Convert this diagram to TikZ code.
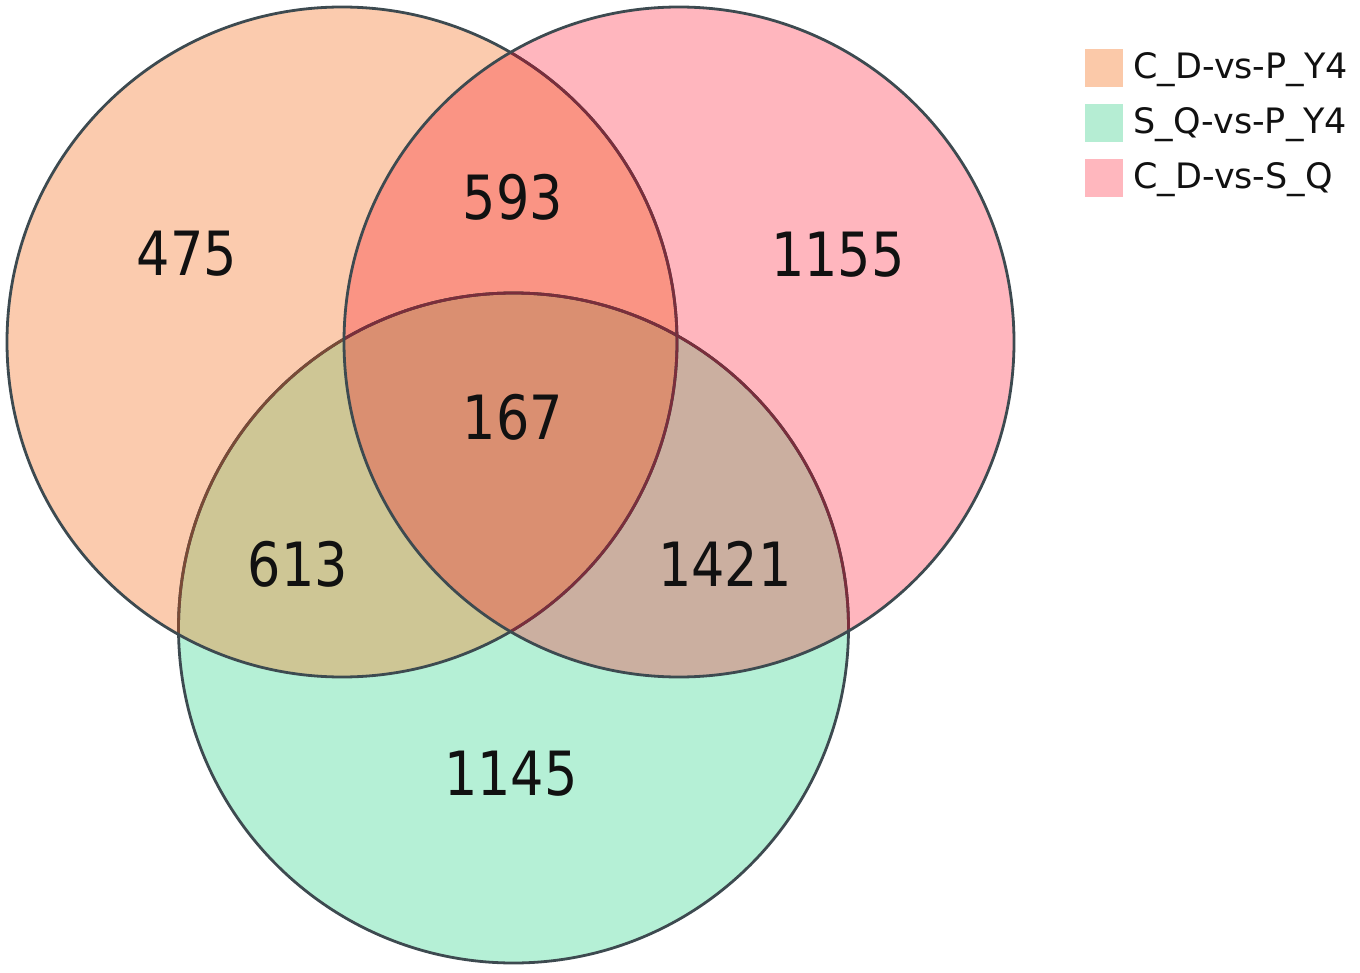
\documentclass[tikz,border=0pt]{standalone}
\usepackage{fontspec}
\setmainfont{DejaVu Sans}
\newfontfamily\numfont[FakeStretch=0.86]{DejaVu Sans}
\definecolor{cA}{HTML}{FBCBAE}
\definecolor{cB}{HTML}{B5F0D6}
\definecolor{cC}{HTML}{FFB6BE}
\definecolor{cAC}{HTML}{FA9484}
\definecolor{cAB}{HTML}{CEC695}
\definecolor{cBC}{HTML}{CBAFA0}
\definecolor{cABC}{HTML}{DA8F71}
\definecolor{lineG}{HTML}{3D4A50}
\definecolor{lineBr}{HTML}{7A4A36}
\definecolor{lineM}{HTML}{7A2E3C}
\definecolor{legA}{HTML}{FBC9A9}
\definecolor{legB}{HTML}{B5EDD3}
\definecolor{legC}{HTML}{FFB7BE}
\definecolor{txt}{HTML}{111111}
\tikzset{
  outl/.style={line width=1.4pt},
  numlab/.style={font=\numfont\fontsize{30.5}{36}\selectfont, text=txt, inner sep=0pt},
  legbox/.style={minimum width=19pt, minimum height=19pt, inner sep=0pt, draw=none},
  legtext/.style={font=\fontsize{17.5}{20}\selectfont, text=txt, anchor=west, inner sep=0pt}
}
\begin{document}
\begin{tikzpicture}[x=0.5pt,y=-0.5pt]
\useasboundingbox (0,0) rectangle (1360,973);
\def\cirA{(342,342) circle[radius=335]}
\def\cirB{(513.5,628) circle[radius=335]}
\def\cirC{(679,342) circle[radius=335]}
% region fills
\fill[cA] \cirA;
\fill[cB] \cirB;
\fill[cC] \cirC;
\begin{scope}\clip \cirA; \fill[cAB] \cirB; \fill[cAC] \cirC; \end{scope}
\begin{scope}\clip \cirB; \fill[cBC] \cirC; \end{scope}
\begin{scope}\clip \cirA; \clip \cirB; \fill[cABC] \cirC; \end{scope}
% outlines
\draw[outl, lineG] \cirB;
\begin{scope}\clip \cirA; \draw[outl, lineBr] \cirB; \end{scope}
\begin{scope}\clip \cirC; \draw[outl, lineM] \cirB; \end{scope}
\draw[outl, lineG] \cirA;
\begin{scope}\clip \cirC; \draw[outl, lineM] \cirA; \end{scope}
\draw[outl, lineG] \cirC;
% counts
\node[numlab] (n475) at (187,254) {475};
\node[numlab] (n593) at (513,197) {593};
\node[numlab] (n1155) at (838,255) {1155};
\node[numlab] (n167) at (513,417) {167};
\node[numlab] (n613) at (298,564) {613};
\node[numlab] (n1421) at (725,564) {1421};
\node[numlab] (n1145) at (511,774) {1145};
% legend
\node[legbox, fill=legA] (la) at (1104,68) {};
\node[legbox, fill=legB] (lb) at (1104,123.5) {};
\node[legbox, fill=legC] (lc) at (1104,178.5) {};
\node[legtext] (ta) at (1133,70) {C\_D-vs-P\_Y4};
\node[legtext] (tb) at (1133,125) {S\_Q-vs-P\_Y4};
\node[legtext] (tc) at (1133,180) {C\_D-vs-S\_Q};
\end{tikzpicture}
\end{document}
